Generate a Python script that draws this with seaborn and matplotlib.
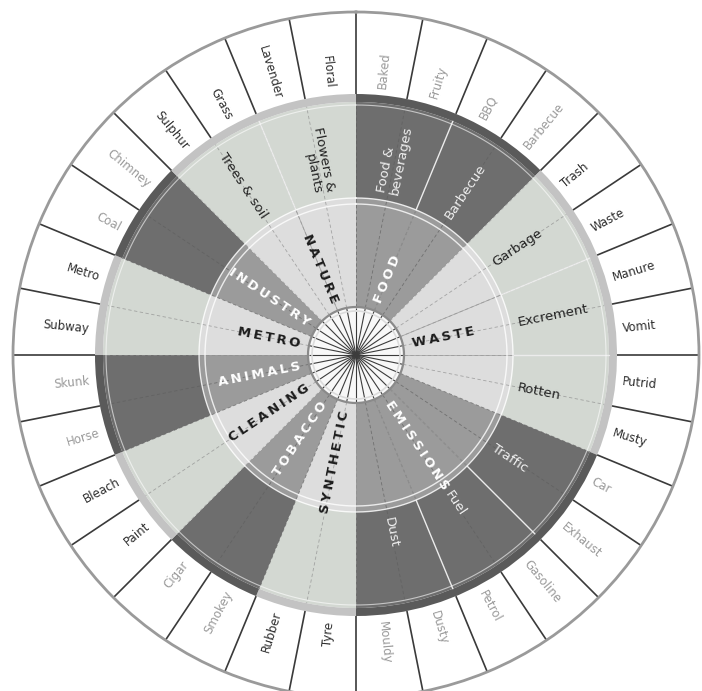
import numpy as np
import matplotlib
matplotlib.use("Agg")
import matplotlib.pyplot as plt
import seaborn as sns

# ─── Data ───────────────────────────────────────────────────────────────────
categories = ["FOOD", "WASTE", "EMISSIONS", "SYNTHETIC", "TOBACCO",
              "CLEANING", "ANIMALS", "METRO", "INDUSTRY", "NATURE"]
category_leaves = [4, 6, 6, 2, 2, 2, 2, 2, 2, 4]

subcategories = ["Food &\nbeverages", "Barbecue", "Garbage", "Excrement", "Rotten",
                 "Traffic", "Fuel", "Dust", "", "", "", "", "", "",
                 "Trees & soil", "Flowers &\nplants"]
subcategory_leaves = [2, 2, 2, 2, 2, 2, 2, 2, 2, 2, 2, 2, 2, 2, 2, 2]

leaves = ["Baked", "Fruity", "BBQ", "Barbecue", "Trash", "Waste", "Manure", "Vomit",
          "Putrid", "Musty", "Car", "Exhaust", "Gasoline", "Petrol", "Dusty", "Mouldy",
          "Tyre", "Rubber", "Smokey", "Cigar", "Paint", "Bleach", "Horse", "Skunk",
          "Subway", "Metro", "Coal", "Chimney", "Sulphur", "Grass", "Lavender", "Floral"]

# ─── Style ──────────────────────────────────────────────────────────────────
sns.set_theme(style="white")
plt.rcParams["font.family"] = ["DejaVu Sans"]

inner_pal = sns.color_palette(["#9b9b9b", "#dddddd"])
middle_pal = sns.color_palette(["#6e6e6e", "#d3d8d2"])
band_pal = sns.color_palette(["#5a5a5a", "#c3c3c3"])
inner_txt = ["white", "#1c1c1c"]
middle_txt = ["#f0f0f0", "#222222"]
outer_txt = ["#9a9a9a", "#2e2e2e"]

# radii in pixels
R_HUB, R_IN, R_MID, R_BAND, R_OUT = 48, 157, 253, 261, 343

W, H = 702, 691
cx, cy = 356, 355
fig = plt.figure(figsize=(W / 100, H / 100), dpi=100, facecolor="white")
ax = fig.add_axes([(cx - R_OUT) / W, (H - cy - R_OUT) / H, 2 * R_OUT / W, 2 * R_OUT / H],
                  projection="polar")
ax.set_theta_zero_location("N")
ax.set_theta_direction(-1)
ax.set_ylim(0, R_OUT)
ax.set_xticks([])
ax.set_yticks([])
ax.grid(False)
ax.set_facecolor("white")
ax.spines["polar"].set_color("#9a9a9a")
ax.spines["polar"].set_linewidth(2)

n_leaf = len(leaves)
lw_ang = 2 * np.pi / n_leaf
leaf_edges = np.arange(n_leaf) * lw_ang
leaf_cat = np.repeat(np.arange(len(categories)), category_leaves)
tone = leaf_cat % 2  # 0 = dark family, 1 = light family


def radial_text(theta, r, s, **kw):
    deg = np.rad2deg(theta) % 360
    phi = 90 - deg
    if deg < 180:
        rot, ha = phi, "left"
    else:
        rot, ha = phi + 180, "right"
    ax.text(theta, r, s, rotation=rot, ha=ha, va="center",
            rotation_mode="anchor", multialignment=ha, **kw)


circ = np.linspace(0, 2 * np.pi, 500)

# ─── Inner ring: categories ─────────────────────────────────────────────────
cat_start = np.concatenate([[0], np.cumsum(category_leaves)[:-1]])
for i, (name, n0, n) in enumerate(zip(categories, cat_start, category_leaves)):
    t0 = n0 * lw_ang
    ax.bar(t0 + n * lw_ang / 2, R_IN - R_HUB, width=n * lw_ang, bottom=R_HUB,
           color=inner_pal[i % 2], edgecolor="none", linewidth=0)
    ax.bar(t0 + n * lw_ang / 2, R_MID - R_IN, width=n * lw_ang, bottom=R_IN,
           color=middle_pal[i % 2], edgecolor="none", linewidth=0)
    ax.bar(t0 + n * lw_ang / 2, R_BAND - R_MID, width=n * lw_ang, bottom=R_MID,
           color=band_pal[i % 2], edgecolor="none", linewidth=0)

# faint dashed lines along every leaf boundary through the inner rings
for t, tn in zip(leaf_edges, tone):
    ax.plot([t, t], [R_HUB, R_MID], ls=(0, (4, 3)), lw=0.6,
            color="#8c8c8c" if tn == 1 else "#5e5e5e", alpha=0.7)

# solid light lines between subcategories
sub_start = np.concatenate([[0], np.cumsum(subcategory_leaves)[:-1]])
for n0 in sub_start:
    if n0 in cat_start:
        continue
    t = n0 * lw_ang
    ax.plot([t, t], [R_IN, R_MID], lw=1, color="#ececec")
    ax.plot([t, t], [R_HUB, R_IN], lw=0.6, color="#9a9a9a", alpha=0.8)

# ring borders
ax.plot(circ, np.full_like(circ, R_IN - 6), color="white", lw=1, alpha=0.8)
ax.plot(circ, np.full_like(circ, R_IN), color="white", lw=1, alpha=0.8)
ax.plot(circ, np.full_like(circ, R_MID - 3), color="white", lw=0.8, alpha=0.6)

# ─── Hub ────────────────────────────────────────────────────────────────────
ax.bar(0, R_HUB, width=2 * np.pi, bottom=0, color="#f8f8f8", edgecolor="none")
ax.vlines(leaf_edges, 0, R_HUB - 1, colors="#3c3c3c", lw=0.8)
ax.plot(circ, np.full_like(circ, R_HUB - 4), color="#dcdcdc", lw=1.2)
ax.plot(circ, np.full_like(circ, R_HUB), color="#8a8a8a", lw=1.6)

# ─── Outer ring: leaves ─────────────────────────────────────────────────────
ax.vlines(leaf_edges, R_BAND, R_OUT, colors="#3a3a3a", lw=1.2)

# ─── Labels ─────────────────────────────────────────────────────────────────
for i, (name, n0, n) in enumerate(zip(categories, cat_start, category_leaves)):
    t = (n0 + n / 2) * lw_ang
    radial_text(t, 57, "\u2009".join(name), fontsize=9.5, fontweight="bold",
                color=inner_txt[i % 2])

for name, n0, n in zip(subcategories, sub_start, subcategory_leaves):
    if not name:
        continue
    t = (n0 + n / 2) * lw_ang
    k = leaf_cat[n0] % 2
    radial_text(t, 165, name, fontsize=9.5, color=middle_txt[k], linespacing=1.0)

for j, name in enumerate(leaves):
    t = (j + 0.5) * lw_ang
    radial_text(t, 268, name, fontsize=8.5, color=outer_txt[tone[j]])

fig.savefig("out.png", dpi=100, facecolor="white")
